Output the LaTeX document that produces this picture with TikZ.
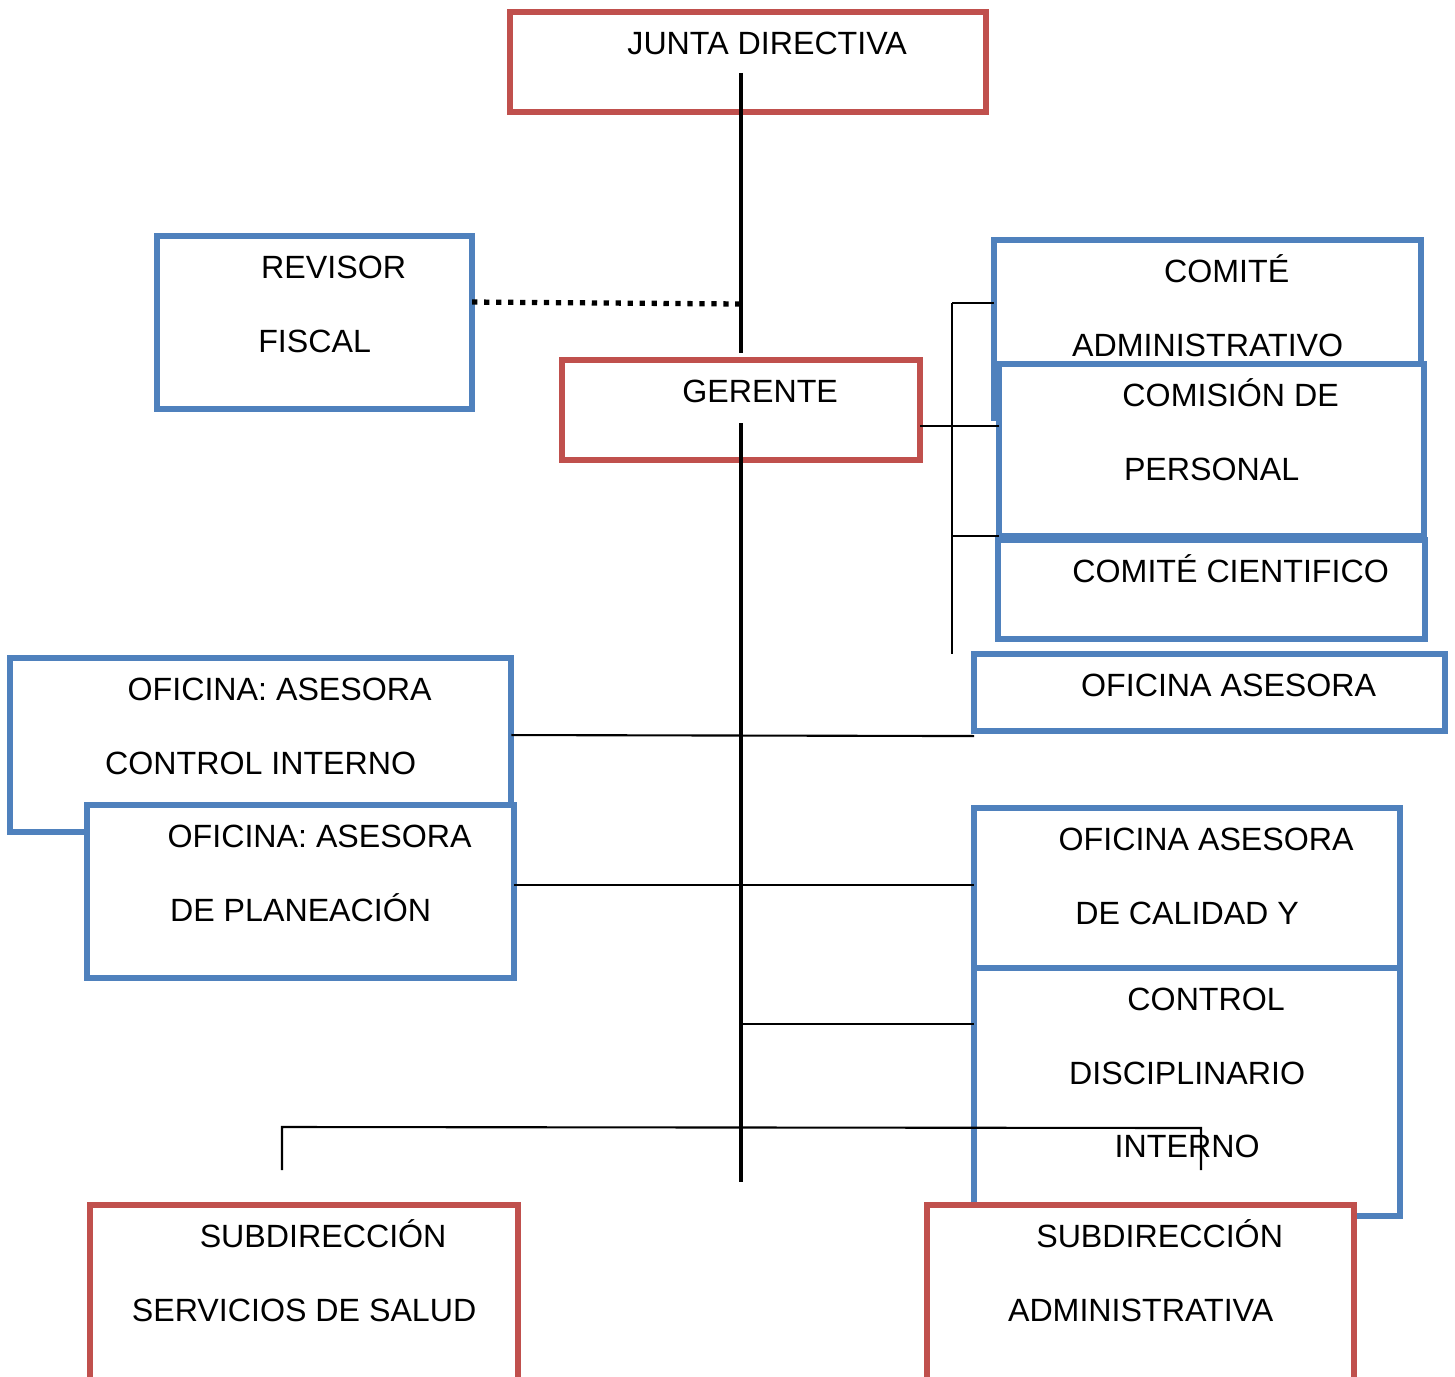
\documentclass[tikz,border=0pt]{standalone}
\usepackage{fontspec}
\setmainfont{Liberation Sans}
\usetikzlibrary{positioning}
\definecolor{boxred}{HTML}{C0504D}
\definecolor{boxblue}{HTML}{4F81BD}
\newcommand\firstln{\rule{0pt}{1em}\hspace*{0.38cm}}
\begin{document}
\begin{tikzpicture}[x=0.01cm, y=-0.01cm,
    box/.style={draw, fill=white, line width=1.7pt, inner sep=0pt, outer sep=0pt, anchor=north west},
    redbox/.style={box, draw=boxred},
    bluebox/.style={box, draw=boxblue},
    txt/.style={inner sep=0pt, align=center, font=\fontsize{9.15pt}{20.9pt}\selectfont},
    trunk/.style={line width=0.95pt},
    link/.style={line width=0.6pt},
    dots/.style={line width=1.5pt, dash pattern=on 1.5pt off 1.9pt}]
    \useasboundingbox (0,0) rectangle (1455,1376);
    \clip (0,0) rectangle (1455,1376);

    % cajas
    \node[redbox, minimum width=4.76cm, minimum height=1.00cm] (jd) at (510,12) {};
    \node[bluebox, minimum width=3.15cm, minimum height=1.73cm] (rf) at (157,236) {};
    \node[redbox, minimum width=3.58cm, minimum height=1.00cm] (ger) at (562,360) {};
    \node[bluebox, minimum width=4.27cm, minimum height=1.78cm] (cadm) at (994,240) {};
    \node[bluebox, minimum width=4.25cm, minimum height=1.72cm] (cper) at (999,364) {};
    \node[bluebox, minimum width=4.27cm, minimum height=0.99cm] (ccie) at (998,540) {};
    \node[bluebox, minimum width=4.71cm, minimum height=0.77cm] (oase) at (974,654) {};
    \node[bluebox, minimum width=5.01cm, minimum height=1.74cm] (oci) at (10,658) {};
    \node[bluebox, minimum width=4.27cm, minimum height=1.73cm] (opl) at (87,805) {};
    \node[bluebox, minimum width=4.26cm, minimum height=1.60cm] (ocal) at (974,808) {};
    \node[bluebox, minimum width=4.26cm, minimum height=2.48cm] (cdis) at (974,968) {};
    \node[redbox, minimum width=4.28cm, minimum height=2.15cm] (sss) at (90,1205) {};
    \node[redbox, minimum width=4.27cm, minimum height=2.15cm] (sadm) at (927,1205) {};

    % textos
    \node[txt, below=0.10cm of jd.north] (jdt) {\firstln JUNTA DIRECTIVA};
    \node[txt, below=0.10cm of rf.north] (rft) {\firstln REVISOR\\FISCAL};
    \node[txt, below=0.10cm of ger.north] (gert) {\firstln GERENTE};
    \node[txt, below=0.10cm of cadm.north] (cadmt) {\firstln COMITÉ\\ADMINISTRATIVO};
    \node[txt, below=0.10cm of cper.north] (cpert) {\firstln COMISIÓN DE\\PERSONAL};
    \node[txt, below=0.10cm of ccie.north] (ccitet) {\firstln COMITÉ CIENTIFICO};
    \node[txt, below=0.10cm of oase.north] (oaset) {\firstln OFICINA ASESORA};
    \node[txt, below=0.10cm of oci.north] (ocit) {\firstln OFICINA: ASESORA\\CONTROL INTERNO};
    \node[txt, below=0.10cm of opl.north] (oplt) {\firstln OFICINA: ASESORA\\DE PLANEACIÓN};
    \node[txt, below=0.10cm of ocal.north] (ocalt) {\firstln OFICINA ASESORA\\DE CALIDAD Y};
    \node[txt, below=0.10cm of cdis.north] (cdist) {\firstln CONTROL\\DISCIPLINARIO\\INTERNO};
    \node[txt, below=0.10cm of sss.north] (ssst) {\firstln SUBDIRECCIÓN\\SERVICIOS DE SALUD};
    \node[txt, below=0.10cm of sadm.north] (sadmt) {\firstln SUBDIRECCIÓN\\ADMINISTRATIVA};

    % puntos de linea
    \coordinate (jdin) at (741,73);
    \coordinate (gerup) at (741,353);
    \coordinate (gerin) at (741,423);
    \coordinate (tend) at (741,1182);
    \coordinate (dotend) at (741,304);
    \coordinate (bt) at (952,303);
    \coordinate (bb) at (952,654);
    \coordinate (disj) at (741,1024);
    \coordinate (bl) at (282,1127);
    \coordinate (br) at (1201,1128);
    \coordinate (bld) at (282,1170);
    \coordinate (brd) at (1201,1170);

    % lineas
    \draw[trunk] (jdin) -- (gerup);
    \draw[trunk] (gerin) -- (tend);
    \draw[dots] ([yshift=0.205cm]rf.east) -- (dotend);
    \draw[link] (bt) -- (bb);
    \draw[link] (bt) -- (bt -| cadm.west);
    \draw[link] ([yshift=-0.16cm]ger.east) -- ([yshift=-0.16cm]ger.east -| cper.west);
    \draw[link] (bt |- cper.south) -- (cper.south west);
    \draw[link] ([yshift=0.1cm]oci.east) -- ([yshift=-0.05cm]oase.south west);
    \draw[link] ([yshift=0.065cm]opl.east) -- ([yshift=0.065cm]opl.east -| ocal.west);
    \draw[link] (disj) -- (disj -| cdis.west);
    \draw[link] (bld) -- (bl) -- (br) -- (brd);
\end{tikzpicture}
\end{document}
